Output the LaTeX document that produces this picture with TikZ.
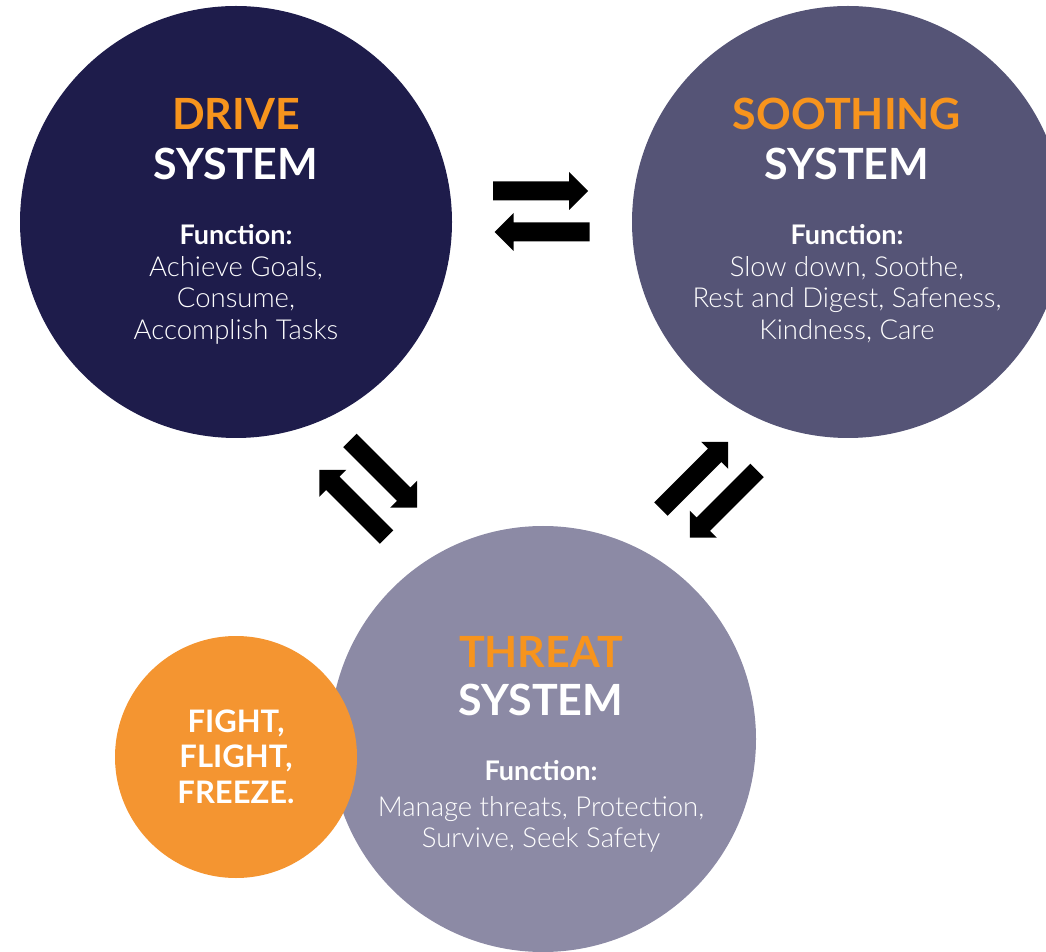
\documentclass[tikz,border=0pt]{standalone}
\usepackage{fontspec}
\setmainfont{Lato}
\newfontfamily\lightfont{Lato Light}
\definecolor{drivebg}{HTML}{1E1C4B}
\definecolor{soothebg}{HTML}{555476}
\definecolor{threatbg}{HTML}{8C8AA5}
\definecolor{fffbg}{HTML}{F49531}
\definecolor{titleorange}{HTML}{F7941D}
\begin{document}
\begin{tikzpicture}[x=1pt,y=1pt,
  sysdisc/.style={circle,inner sep=0pt,outer sep=0pt,draw=none},
  hot/.style={anchor=base,inner sep=0pt,text=titleorange,font=\bfseries\fontsize{43}{43}\selectfont},
  sysword/.style={anchor=base,inner sep=0pt,text=white,font=\bfseries\fontsize{43}{43}\selectfont},
  funchead/.style={anchor=base,inner sep=0pt,text=white,font=\bfseries\fontsize{27}{27}\selectfont},
  funcline/.style={anchor=base,inner sep=0pt,text=white,font=\lightfont\fontsize{27.5}{27.5}\selectfont},
  fffline/.style={anchor=base,inner sep=0pt,text=white,font=\bfseries\fontsize{31}{31}\selectfont},
  blockarrow/.pic={\fill[black] (-47.5,-9.5) -- (28.5,-9.5) -- (28.5,-19) -- (47.5,0)
      -- (28.5,19) -- (28.5,9.5) -- (-47.5,9.5) -- cycle;}]
\useasboundingbox (0,0) rectangle (1046,951);
\clip (0,0) rectangle (1046,951);

% the three systems
\node[sysdisc,fill=drivebg,minimum size=432pt] (drive) at (236,729) {};
\node[sysdisc,fill=soothebg,minimum size=432pt] (soothing) at (848,729) {};
\node[sysdisc,fill=threatbg,minimum size=426pt] (threat) at (543,212) {};
\node[sysdisc,fill=fffbg,minimum size=242pt] (fff) at (236,194) {};

% drive system text
\node[hot] (driveA) at (236,821) {DRIVE};
\node[sysword] (driveB) at (236,771) {SYSTEM};
\node[funchead] (driveC) at (236,706) {Function:};
\node[funcline] (driveD) at (236,674) {Achieve Goals,};
\node[funcline] (driveE) at (236,643) {Consume,};
\node[funcline] (driveF) at (236,611) {Accomplish Tasks};

% soothing system text
\node[hot] (sootheA) at (847,821) {SOOTHING};
\node[sysword] (sootheB) at (847,771) {SYSTEM};
\node[funchead] (sootheC) at (847,706) {Function:};
\node[funcline] (sootheD) at (847,674) {Slow down, Soothe,};
\node[funcline] (sootheE) at (847,643) {Rest and Digest, Safeness,};
\node[funcline] (sootheF) at (847,611) {Kindness, Care};

% threat system text
\node[hot] (threatA) at (541,284) {THREAT};
\node[sysword] (threatB) at (541,236) {SYSTEM};
\node[funchead] (threatC) at (541,171) {Function:};
\node[funcline] (threatD) at (541,135) {Manage threats, Protection,};
\node[funcline] (threatE) at (541,104) {Survive, Seek Safety};

% fight / flight / freeze
\node[fffline] (fffA) at (236,219) {FIGHT,};
\node[fffline] (fffB) at (236,184) {FLIGHT,};
\node[fffline] (fffC) at (236,148) {FREEZE.};

% two-way arrows between the systems
\coordinate (dsR) at (540.5,760);
\coordinate (dsL) at (542,719);
\coordinate (dtD) at (383.5,477);
\coordinate (dtU) at (353,447.5);
\coordinate (stU) at (694.5,475.5);
\coordinate (stD) at (723.5,447);
\pic[rotate=0] at (dsR) {blockarrow};
\pic[rotate=180] at (dsL) {blockarrow};
\pic[rotate=-45] at (dtD) {blockarrow};
\pic[rotate=135] at (dtU) {blockarrow};
\pic[rotate=45] at (stU) {blockarrow};
\pic[rotate=-135] at (stD) {blockarrow};
\end{tikzpicture}
\end{document}
